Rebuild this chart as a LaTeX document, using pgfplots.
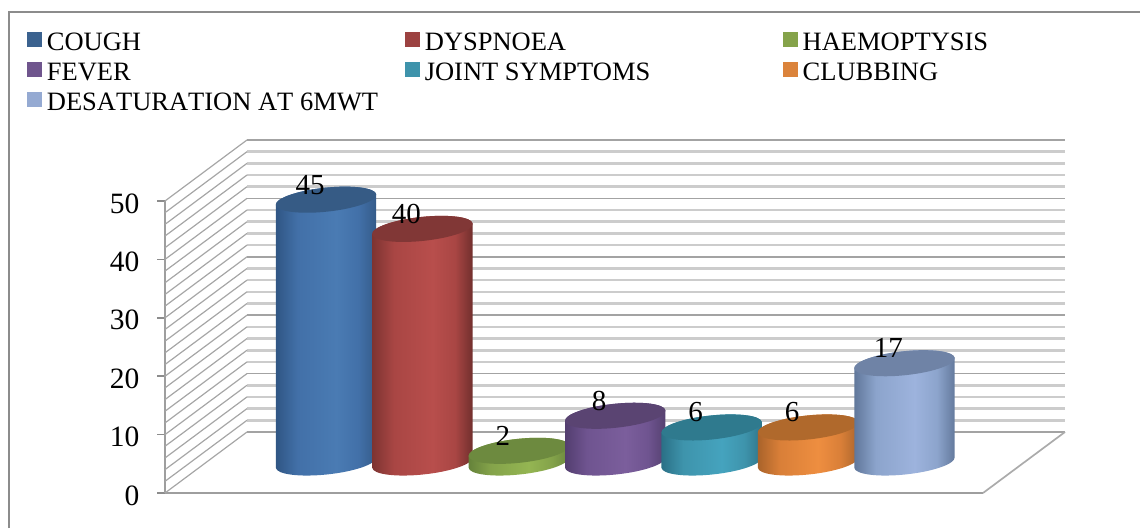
\documentclass[border=0pt]{standalone}
\usepackage{pgfplots}
\pgfplotsset{compat=1.18}
\usepackage{fontspec}
\setmainfont{Liberation Serif}

% one cylinder per series: body shading + flat top, height comes from the y value
\newcommand\defcyl[6]{%
  \definecolor{l-#1}{HTML}{#2}%
  \definecolor{e1-#1}{HTML}{#3}%
  \definecolor{m-#1}{HTML}{#4}%
  \definecolor{e2-#1}{HTML}{#5}%
  \definecolor{t-#1}{HTML}{#6}%
  \pgfdeclarehorizontalshading{cs-#1}{100bp}{%
    color(0bp)=(e1-#1);color(25bp)=(e1-#1);color(36bp)=(m-#1);color(55bp)=(l-#1);%
    color(66bp)=(m-#1);color(75bp)=(e2-#1);color(100bp)=(e2-#1)}%
  \pgfdeclareplotmark{cyl-#1}{%
    \pgfmathsetmacro\cylH{\cylv*5.84}%
    \pgfpathmoveto{\pgfpoint{50.2pt}{5.28pt}}%
    \pgfpathlineto{\pgfpoint{50.2pt}{5.28pt-\cylH pt}}%
    \pgfpatharcaxes{0}{-180}{\pgfpoint{50.2pt}{5.28pt}}{\pgfpoint{-1.25pt}{11.93pt}}%
    \pgfpathlineto{\pgfpoint{-50.2pt}{-5.28pt}}%
    \pgfpatharcaxes{180}{0}{\pgfpoint{50.2pt}{5.28pt}}{\pgfpoint{-1.25pt}{11.93pt}}%
    \pgfpathclose
    \pgfshadepath{cs-#1}{0}%
    \pgfusepath{discard}%
    \pgfpathellipse{\pgfpointorigin}{\pgfpoint{50.2pt}{5.28pt}}{\pgfpoint{-1.25pt}{11.93pt}}%
    \pgfsetfillcolor{t-#1}%
    \pgfusepath{fill}%
  }%
}
%       name     legend  left    mid     right   top
\defcyl{blue}  {4A7BB3}{2F5583}{4270A8}{345A88}{365B85}
\defcyl{red}   {B84E4C}{7C3331}{A94644}{6F2E2C}{813736}
\defcyl{green} {94B552}{64813A}{84A34A}{6A873E}{6D8A3F}
\defcyl{purple}{7B5E9C}{523D6E}{6F5490}{54406F}{5A4472}
\defcyl{teal}  {45A3BE}{2A6F85}{3E94AC}{2F7488}{2F7A8E}
\defcyl{orange}{EE8E40}{A8622A}{D97F38}{A9642C}{B0692C}
\defcyl{lblue} {9DB3DD}{5F7699}{8CA4CC}{62789B}{6F83A6}

\definecolor{framegray}{HTML}{8C8C8C}
\pgfplotsset{
  cylplot/.style={
    scatter, only marks, mark=cyl-#1,
    visualization depends on={rawy \as \cylv},
    nodes near coords,
    every node near coord/.append style={
      anchor=center, xshift=-16pt, yshift=15pt, text=black,
      font=\fontsize{29}{30}\selectfont},
  },
  legsq/.style={legend image code/.code={\fill[#1] (0pt,-2pt) rectangle (14pt,12pt);}},
}
\newcommand\lent[1]{\makebox[357.5pt][l]{\hspace{5.5pt}#1}}

\begin{document}
\begin{tikzpicture}[x=1pt,y=1pt]
\useasboundingbox (0,0) rectangle (1140,528);
\draw[framegray, line width=1.6pt] (9,0) -- (9,516) -- (1140,516);

% back wall
\begin{axis}[
  at={(247pt,96pt)}, anchor=south west, scale only axis,
  width=818pt, height=292pt,
  xmin=0, xmax=1, ymin=0, ymax=50,
  xtick=\empty, ytick={0,10,...,50}, minor y tick num=4,
  yticklabels={}, tick style={draw=none}, minor tick style={draw=none},
  axis line style={draw=none},
  ymajorgrids, yminorgrids,
  major grid style={color=black!36, line width=1.6pt},
  minor grid style={color=black!20, line width=2.6pt},
]
\addplot[draw=none, forget plot] coordinates {(0,0)};
\end{axis}

% front plane: side wall, floor, y axis, legend
\begin{axis}[
  at={(165pt,35pt)}, anchor=south west, scale only axis,
  width=818pt, height=292pt,
  xmin=165, xmax=983, ymin=0, ymax=50,
  clip=false,
  axis y line=left, axis x line=bottom,
  axis line style={-, color=black!38, line width=1.7pt},
  xtick=\empty, ytick={0,10,...,50},
  tick align=outside, major tick length=8pt,
  y tick style={color=framegray, line width=1.5pt},
  ticklabel style={font=\fontsize{29.5}{30}\selectfont},
  yticklabel style={xshift=-14pt, yshift=-2.5pt},
  /pgf/number format/assume math mode=true,
  legend columns=3,
  legend cell align=left,
  legend style={
    at={(-0.1687,1.589)}, anchor=north west, draw=none, fill=none,
    inner sep=0pt, outer sep=0pt, row sep=0pt,
    font=\fontsize{26.5}{30}\selectfont,
    nodes={inner sep=0pt, text height=21pt, text depth=9pt},
    /tikz/every even column/.append style={column sep=6pt},
  },
]
\pgfplotsinvokeforeach{0,2,...,50}{
  \pgfmathsetmacro\bk{#1+10.45}
  \edef\tmp{\noexpand\addplot[forget plot, color=black!35, line width=1.2pt]
    coordinates {(165,#1)(247,\bk)};}
  \tmp
}
\addplot[forget plot, color=black!33, line width=1.7pt] coordinates {(983,0)(1065,10.45)};
\addlegendimage{legsq=l-blue!80!black}   \addlegendentry{\lent{COUGH}}
\addlegendimage{legsq=l-red!85!black}    \addlegendentry{\lent{DYSPNOEA}}
\addlegendimage{legsq=l-green!90!black}  \addlegendentry{\lent{HAEMOPTYSIS}}
\addlegendimage{legsq=l-purple!90!black} \addlegendentry{\lent{FEVER}}
\addlegendimage{legsq=l-teal!90!black}   \addlegendentry{\lent{JOINT SYMPTOMS}}
\addlegendimage{legsq=l-orange!92!black} \addlegendentry{\lent{CLUBBING}}
\addlegendimage{legsq=l-lblue!95!black}  \addlegendentry{\lent{\addfontfeatures{Kerning=Off}DESATURATION AT 6MWT}}
\end{axis}

% cylinders, one series each, drawn left to right
\begin{axis}[
  at={(206pt,65.5pt)}, anchor=south west, scale only axis,
  width=818pt, height=292pt,
  xmin=-1.245, xmax=7.24, ymin=0, ymax=50,
  clip=false, hide axis,
  /pgf/number format/assume math mode=true,
]
\addplot[cylplot=blue]   coordinates {(0,45)};
\addplot[cylplot=red]    coordinates {(1,40)};
\addplot[cylplot=green]  coordinates {(2,2)};
\addplot[cylplot=purple] coordinates {(3,8)};
\addplot[cylplot=teal]   coordinates {(4,6)};
\addplot[cylplot=orange] coordinates {(5,6)};
\addplot[cylplot=lblue]  coordinates {(6,17)};
\end{axis}
\end{tikzpicture}
\end{document}
